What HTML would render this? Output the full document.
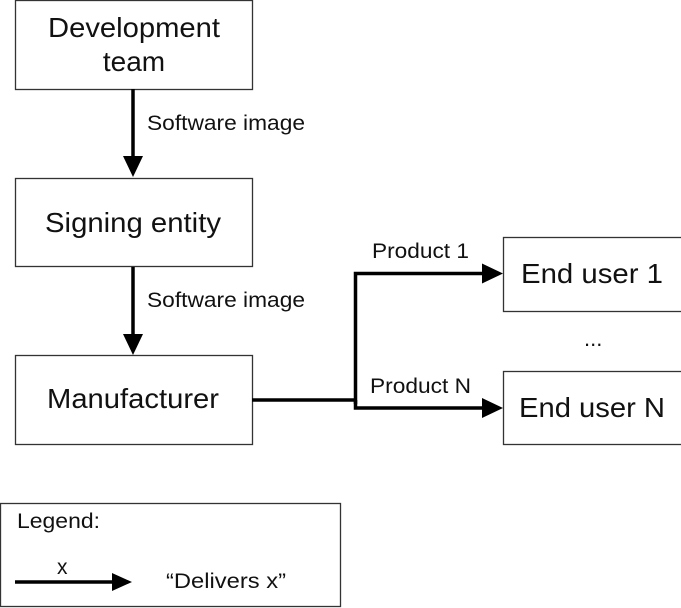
<!DOCTYPE html>
<html><head><meta charset="utf-8"><style>html,body{margin:0;padding:0;background:#fff;}svg{display:block;}</style></head>
<body>
<svg width="681" height="608" xmlns="http://www.w3.org/2000/svg" font-family="Liberation Sans, sans-serif" fill="#111">
<g fill="#fff" stroke="#333" stroke-width="1.3">
<rect x="15.5" y="0.5" width="237" height="89"/>
<rect x="15.5" y="178.5" width="237" height="88"/>
<rect x="15.5" y="355.5" width="237" height="89"/>
<rect x="503.5" y="237.5" width="190" height="74"/>
<rect x="503.5" y="371.5" width="190" height="73"/>
<rect x="0.5" y="503.5" width="340" height="103"/>
</g>
<g stroke="#000" stroke-width="3.5" fill="none">
<line x1="133" y1="89" x2="133" y2="158"/>
<line x1="133" y1="267" x2="133" y2="336"/>
<polyline points="252,400 355.5,400"/>
<polyline points="355.5,404 355.5,273.5 484,273.5"/>
<polyline points="355.5,400 355.5,408 484,408"/>
<line x1="15" y1="582" x2="114" y2="582"/>
</g>
<g fill="#000">
<polygon points="123,156 143,156 133,177"/>
<polygon points="123,334 143,334 133,355"/>
<polygon points="482,263.5 482,283.5 503,273.5"/>
<polygon points="482,398 482,418 503,408"/>
<polygon points="112,573 112,591 132,582"/>
</g>
<g font-size="28" text-anchor="middle">
<text x="134" y="37" textLength="172" lengthAdjust="spacingAndGlyphs">Development</text>
<text x="134" y="71">team</text>
<text x="133" y="232" textLength="176" lengthAdjust="spacingAndGlyphs">Signing entity</text>
<text x="133" y="408" textLength="172" lengthAdjust="spacingAndGlyphs">Manufacturer</text>
<text x="592" y="283" textLength="142" lengthAdjust="spacingAndGlyphs">End user 1</text>
<text x="592" y="417" textLength="146" lengthAdjust="spacingAndGlyphs">End user N</text>
</g>
<g font-size="21">
<text x="147" y="130" textLength="158" lengthAdjust="spacingAndGlyphs">Software image</text>
<text x="147" y="307" textLength="158" lengthAdjust="spacingAndGlyphs">Software image</text>
<text x="372" y="258" textLength="97" lengthAdjust="spacingAndGlyphs">Product 1</text>
<text x="370" y="393" textLength="101" lengthAdjust="spacingAndGlyphs">Product N</text>
<text x="584" y="346" font-size="22">...</text>
<text x="17" y="528" textLength="83" lengthAdjust="spacingAndGlyphs">Legend:</text>
<text x="57" y="574">x</text>
<text x="166" y="588" textLength="120" lengthAdjust="spacingAndGlyphs">“Delivers x”</text>
</g>
</svg>
</body></html>
